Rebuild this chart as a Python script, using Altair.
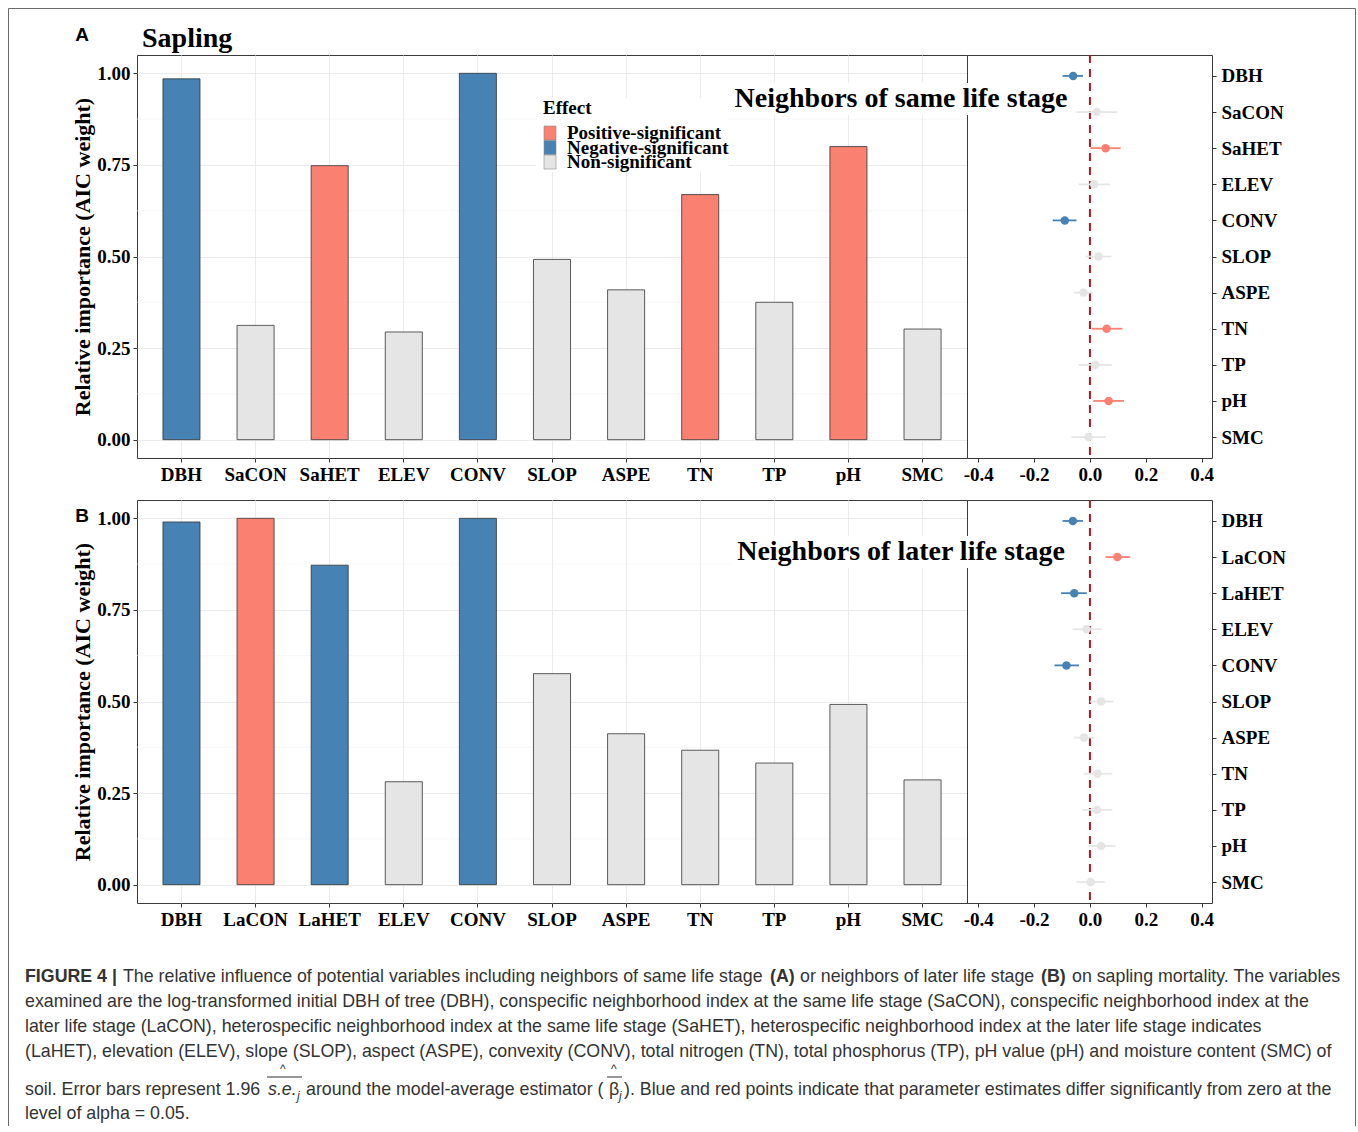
import altair as alt
import pandas as pd

# ---------------------------------------------------------------- data
VARS_A = ["DBH", "SaCON", "SaHET", "ELEV", "CONV", "SLOP", "ASPE", "TN", "TP", "pH", "SMC"]
VARS_B = ["DBH", "LaCON", "LaHET", "ELEV", "CONV", "SLOP", "ASPE", "TN", "TP", "pH", "SMC"]

# relative importance (summed AIC weight)
WEIGHT_A = [0.985, 0.312, 0.748, 0.294, 1.000, 0.492, 0.409, 0.669, 0.375, 0.800, 0.302]
WEIGHT_B = [0.990, 1.000, 0.872, 0.281, 1.000, 0.576, 0.412, 0.367, 0.332, 0.492, 0.286]

POS = "Positive-significant"
NEG = "Negative-significant"
NON = "Non-significant"
EFFECT_A = [NEG, NON, POS, NON, NEG, NON, NON, POS, NON, POS, NON]
EFFECT_B = [NEG, POS, NEG, NON, NEG, NON, NON, NON, NON, NON, NON]

# model-averaged estimates and their 1.96 s.e. limits
EST_A = [-0.060, 0.024, 0.056, 0.015, -0.090, 0.031, -0.023, 0.060, 0.019, 0.067, -0.005]
LO_A = [-0.098, -0.048, 0.002, -0.040, -0.133, -0.015, -0.057, 0.006, -0.040, 0.012, -0.066]
HI_A = [-0.025, 0.098, 0.110, 0.072, -0.048, 0.077, 0.012, 0.116, 0.078, 0.122, 0.057]

EST_B = [-0.061, 0.098, -0.056, -0.012, -0.084, 0.040, -0.021, 0.027, 0.025, 0.040, 0.003]
LO_B = [-0.098, 0.056, -0.103, -0.062, -0.127, 0.000, -0.056, -0.023, -0.027, -0.005, -0.048]
HI_B = [-0.025, 0.144, -0.011, 0.042, -0.039, 0.084, 0.017, 0.080, 0.080, 0.092, 0.053]

EFFECT_ORDER = [POS, NEG, NON]
EFFECT_COLORS = ["#FA8072", "#4682B4", "#E5E5E5"]

Y_BREAKS = [0, 0.25, 0.5, 0.75, 1.0]
Y_MINOR = [0.125, 0.375, 0.625, 0.875]
X_BREAKS = [-0.4, -0.2, 0.0, 0.2, 0.4]

CAPTION_1 = ["FIGURE 4 |",
             "The relative influence of potential variables including neighbors of same life stage",
             "(A)", "or neighbors of later life stage", "(B)",
             "on sapling mortality. The variables"]
CAPTION_2 = "examined are the log-transformed initial DBH of tree (DBH), conspecific neighborhood index at the same life stage (SaCON), conspecific neighborhood index at the"
CAPTION_3 = "later life stage (LaCON), heterospecific neighborhood index at the same life stage (SaHET), heterospecific neighborhood index at the later life stage indicates"
CAPTION_4 = "(LaHET), elevation (ELEV), slope (SLOP), aspect (ASPE), convexity (CONV), total nitrogen (TN), total phosphorus (TP), pH value (pH) and moisture content (SMC) of"
CAPTION_5 = ["soil. Error bars represent 1.96", "s.e.", "j",
             "around the model-average estimator (", "\u03b2", "j",
             "). Blue and red points indicate that parameter estimates differ significantly from zero at the"]
CAPTION_6 = "level of alpha = 0.05."

# ---------------------------------------------------------------- style
SERIF = "Liberation Serif"
SANS = "Liberation Sans"
BORDER = "#3a3a3a"
GRID = "#EBEBEB"
CAP_INK = "#333333"
CAP_SIZE = 17.8
BAR_W, DOT_W, PANEL_H = 830, 245, 403
ROW_GAP = 42
ORIGIN_X, ORIGIN_Y = 137, 55          # top-left of the first bar panel
CAP_Y0 = ORIGIN_Y + 2 * PANEL_H + 2 * ROW_GAP

ONE = pd.DataFrame({"k": [0]})


def axis(**kw):
    base = dict(labelFont=SERIF, labelFontSize=19, labelFontWeight="bold",
                labelColor="black", tickColor="#333333", tickSize=4,
                tickWidth=1, domain=False)
    base.update(kw)
    return alt.Axis(**base)


def label(text, x, y, font=SERIF, size=19, weight="bold", align="center",
          baseline="middle", color="black", style="normal"):
    return alt.Chart(ONE).mark_text(
        text=text, font=font, fontSize=size, fontWeight=weight,
        fontStyle=style, align=align, baseline=baseline, color=color
    ).encode(x=alt.value(x), y=alt.value(y))


def box(x1, x2, y1, y2, fill, stroke=None, width=0.6):
    props = dict(fill=fill)
    if stroke:
        props.update(stroke=stroke, strokeWidth=width)
    return alt.Chart(ONE).mark_rect(**props).encode(
        x=alt.value(x1), x2=alt.value(x2), y=alt.value(y1), y2=alt.value(y2))


def effect_key(x0, y0):
    """Compact 'Effect' key drawn inside the first bar panel."""
    layers = [box(x0 - 7, x0 + 186, y0 - 10, y0 + 64, "white"),
              label("Effect", x0, y0, align="left")]
    for i, (name, colour) in enumerate(zip(EFFECT_ORDER, EFFECT_COLORS)):
        cy = y0 + 25 + i * 14.5
        layers.append(box(x0 + 1, x0 + 13, cy - 7, cy + 7, colour, "#8a8a8a"))
        layers.append(label(name, x0 + 24, cy, align="left"))
    return layers


def bar_panel(names, weights, effects, tag, tag_y, heading=None, legend=False):
    df = pd.DataFrame({"variable": names, "weight": weights, "effect": effects})
    y_enc = alt.Y("weight:Q", title="Relative importance (AIC weight)",
                  scale=alt.Scale(domain=[-0.05, 1.05], nice=False, zero=False),
                  axis=axis(values=Y_BREAKS, format=".2f", grid=True,
                            gridColor=GRID, gridWidth=1.1, labelPadding=3,
                            titleFont=SERIF, titleFontSize=22,
                            titleFontWeight="bold", titleColor="black",
                            titlePadding=2))
    x_enc = alt.X("variable:N", sort=names, title=None,
                  scale=alt.Scale(paddingInner=0.5, paddingOuter=0.35),
                  axis=axis(labelAngle=0, grid=True, gridColor=GRID,
                            gridWidth=1.1, labelPadding=3))
    fill = alt.Fill("effect:N", scale=alt.Scale(domain=EFFECT_ORDER, range=EFFECT_COLORS),
                    legend=None)

    minor = alt.Chart(pd.DataFrame({"weight": Y_MINOR})).mark_rule(
        color="#F2F2F2", strokeWidth=0.6).encode(y=y_enc)
    bars = alt.Chart(df).mark_bar(stroke="#333333", strokeWidth=0.8).encode(
        x=x_enc, y=y_enc, y2=alt.datum(0), fill=fill)

    layers = [minor, bars, label(tag, -55, tag_y, font=SANS, size=19)]
    if heading:
        layers.append(label(heading, 5, -8, size=28, align="left",
                            baseline="alphabetic"))
    if legend:
        layers.extend(effect_key(543 - ORIGIN_X, 108 - ORIGIN_Y))
    return alt.layer(*layers).properties(
        width=BAR_W, height=PANEL_H,
        view=alt.ViewBackground(stroke=BORDER, strokeWidth=1))


def dot_panel(names, est, lo, hi, effects, heading, heading_y):
    df = pd.DataFrame({"variable": names, "est": est, "lo": lo, "hi": hi,
                       "effect": effects})
    y_enc = alt.Y("variable:N", sort=names, title=None,
                  scale=alt.Scale(type="point", padding=0.58),
                  axis=axis(orient="right", grid=False, labelPadding=5))
    x_scale = alt.Scale(domain=[-0.44, 0.437], nice=False, zero=False)
    x_axis = axis(values=X_BREAKS, format=".1f", grid=False, labelPadding=3,
                  labelExpr="replace(datum.label, '\u2212', '-')")
    col = alt.Color("effect:N", scale=alt.Scale(domain=EFFECT_ORDER, range=EFFECT_COLORS),
                    legend=None)

    zero = alt.Chart(pd.DataFrame({"est": [0.0]})).mark_rule(
        color="#B0171F", strokeDash=[8, 6], strokeWidth=2).encode(
        x=alt.X("est:Q", scale=x_scale, axis=x_axis, title=None))
    whiskers = alt.Chart(df).mark_rule(strokeWidth=1.8).encode(
        x=alt.X("lo:Q", scale=x_scale, axis=x_axis, title=None),
        x2="hi:Q", y=y_enc, color=col)
    points = alt.Chart(df).mark_circle(size=72, opacity=1).encode(
        x=alt.X("est:Q", scale=x_scale, axis=x_axis, title=None),
        y=y_enc, color=col)
    backing = box(-236, 105, heading_y - 16, heading_y + 16, "white")
    text = label(heading, -66, heading_y, size=28)
    return alt.layer(zero, whiskers, points, backing, text).properties(
        width=DOT_W, height=PANEL_H,
        view=alt.ViewBackground(stroke=BORDER, strokeWidth=1))


def caption_panel():
    def cx(x):
        return x - ORIGIN_X

    def cy(y):
        return y - CAP_Y0

    def seg(text, x, y, bold=False, italic=False, size=CAP_SIZE):
        return label(text, cx(x), cy(y), font=SANS, size=size,
                     weight="bold" if bold else "normal", align="left",
                     color=CAP_INK, style="italic" if italic else "normal")

    def rule(x1, x2, y1, y2, color, width=1):
        return alt.Chart(ONE).mark_rule(color=color, strokeWidth=width).encode(
            x=alt.value(cx(x1)), x2=alt.value(cx(x2)),
            y=alt.value(cy(y1)), y2=alt.value(cy(y2)))

    frame_col = "#6a6a6a"
    layers = [
        rule(8.5, 1355.5, 8.5, 8.5, frame_col),
        rule(8.5, 8.5, 8.5, 1126, frame_col),
        rule(1355.5, 1355.5, 8.5, 1126, frame_col),
    ]
    xs1 = [25, 123, 770, 800, 1041, 1072]
    bold1 = [True, False, True, False, True, False]
    for t, x, b in zip(CAPTION_1, xs1, bold1):
        layers.append(seg(t, x, 977, bold=b))
    layers.append(seg(CAPTION_2, 25, 1002))
    layers.append(seg(CAPTION_3, 25, 1027))
    layers.append(seg(CAPTION_4, 25, 1052))
    # line with the estimator notation
    layers.append(seg(CAPTION_5[0], 25, 1090))
    layers.append(seg(CAPTION_5[1], 268, 1090, italic=True))
    layers.append(seg(CAPTION_5[2], 297, 1096, italic=True, size=12))
    layers.append(seg(CAPTION_5[3], 306, 1090))
    layers.append(seg(CAPTION_5[4], 609, 1090))
    layers.append(seg(CAPTION_5[5], 619, 1096, italic=True, size=12))
    layers.append(seg(CAPTION_5[6], 624, 1090))
    layers.append(rule(267, 302, 1077, 1077, CAP_INK))
    layers.append(rule(607, 622, 1077, 1077, CAP_INK))
    layers.append(seg("^", 280, 1069, size=12))
    layers.append(seg("^", 611, 1069, size=12))
    layers.append(seg(CAPTION_6, 25, 1114))
    return alt.layer(*layers).properties(
        width=BAR_W, height=175,
        view=alt.ViewBackground(strokeWidth=0))


bar_a = bar_panel(VARS_A, WEIGHT_A, EFFECT_A, "A", -20, heading="Sapling", legend=True)
dot_a = dot_panel(VARS_A, EST_A, LO_A, HI_A, EFFECT_A, "Neighbors of same life stage", 44)
bar_b = bar_panel(VARS_B, WEIGHT_B, EFFECT_B, "B", 16)
dot_b = dot_panel(VARS_B, EST_B, LO_B, HI_B, EFFECT_B, "Neighbors of later life stage", 52)
caption = caption_panel()

chart = alt.concat(
    bar_a, dot_a, bar_b, dot_b, caption,
    columns=2, spacing={"row": ROW_GAP, "column": 0}, bounds="flush"
).resolve_scale(
    color="independent", fill="independent"
).properties(
    padding={"left": 8, "top": 8, "right": 0, "bottom": 0},
    background="white"
).configure_view(strokeWidth=0)

chart.save("out.html", embed_options={"renderer": "svg", "actions": False})
